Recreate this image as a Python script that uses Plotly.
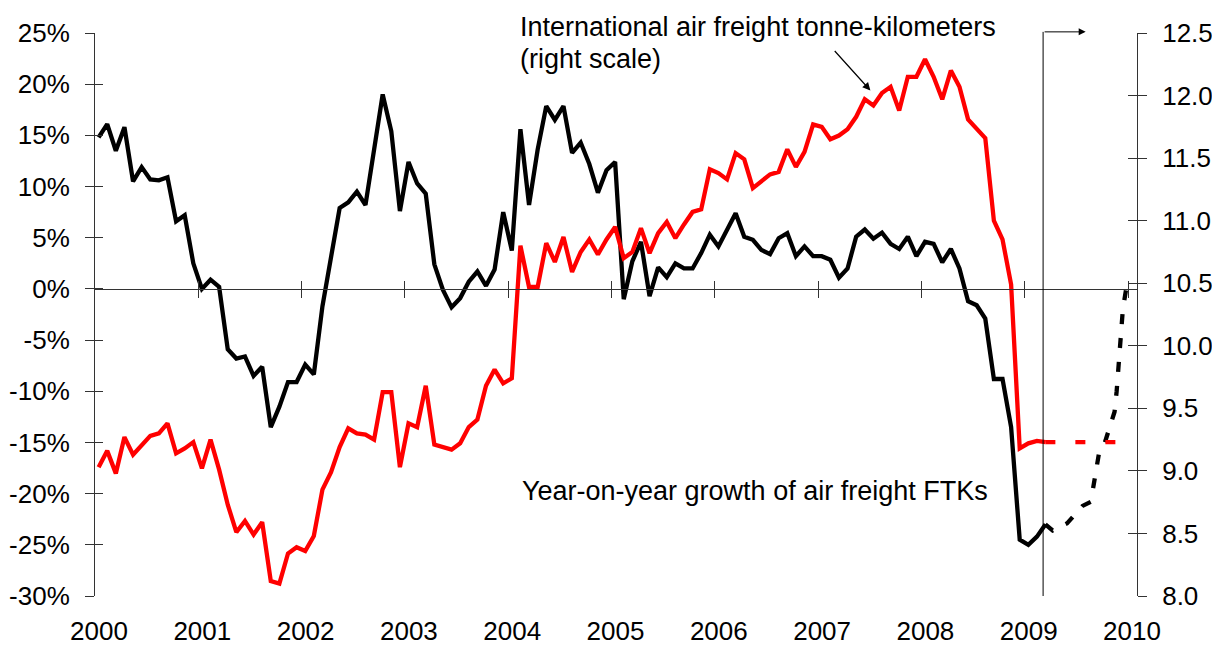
import plotly.graph_objects as go

# ---- data (monthly, Jan 2000 - Mar 2009) ----
start_year = 2000
yoy_growth = [  # year-on-year growth of air freight FTKs, % (left scale)
    14.8, 16.1, 13.5, 15.8, 10.5, 11.9, 10.7, 10.6, 10.9, 6.6, 7.2, 2.5,
    0.0, 0.9, 0.2, -5.9, -6.8, -6.6, -8.5, -7.6, -13.5, -11.5, -9.1, -9.1,
    -7.4, -8.35, -1.7, 3.2, 7.9, 8.45, 9.5, 8.2, 13.9, 19.0, 15.4, 7.6,
    12.4, 10.3, 9.3, 2.4, -0.1, -1.8, -0.9, 0.7, 1.7, 0.3, 1.9, 7.5,
    3.75, 15.6, 8.2, 13.6, 17.85, 16.5, 17.85, 13.3, 14.3, 12.2, 9.4, 11.6,
    12.4, -1.0, 2.7, 4.6, -0.7, 2.1, 1.15, 2.5, 2.0, 2.0, 3.5, 5.3,
    4.15, 5.85, 7.4, 5.1, 4.8, 3.8, 3.4, 4.95, 5.45, 3.2, 4.15, 3.2,
    3.2, 2.85, 1.1, 2.0, 5.1, 5.8, 4.9, 5.5, 4.4, 3.9, 5.1, 3.2,
    4.6, 4.4, 2.6, 3.9, 2.0, -1.2, -1.6, -2.9, -8.8, -8.8, -13.5, -24.5,
    -25.0, -24.2, -23.0,
]
ftk_level = [  # international air freight tonne-km (right scale)
    9.03, 9.16, 8.98, 9.27, 9.13, 9.21, 9.28, 9.30, 9.38, 9.14, 9.18, 9.23,
    9.02, 9.25, 9.01, 8.73, 8.51, 8.60, 8.49, 8.59, 8.12, 8.10, 8.34, 8.39,
    8.36, 8.48, 8.85, 8.99, 9.19, 9.34, 9.30, 9.29, 9.25, 9.63, 9.63, 9.03,
    9.38, 9.35, 9.68, 9.21, 9.19, 9.17, 9.22, 9.35, 9.41, 9.68, 9.81, 9.70,
    9.74, 10.80, 10.47, 10.47, 10.82, 10.67, 10.87, 10.59, 10.75, 10.85, 10.73, 10.85,
    10.95, 10.70, 10.75, 10.94, 10.74, 10.90, 10.99, 10.86, 10.97, 11.07, 11.09, 11.41,
    11.38, 11.33, 11.54, 11.49, 11.26, 11.31, 11.37, 11.39, 11.57, 11.43, 11.55, 11.77,
    11.75, 11.65, 11.68, 11.73, 11.83, 11.97, 11.92, 12.02, 12.07, 11.88, 12.15, 12.15,
    12.29, 12.15, 11.97, 12.20, 12.07, 11.81, 11.74, 11.66, 11.00, 10.85, 10.49, 9.18,
    9.22, 9.24, 9.23,
]
# projections (dashed)
yoy_proj_x = [2009.20, 2009.27, 2009.41, 2009.56, 2009.64, 2009.68, 2009.72, 2009.77,
              2009.83, 2009.87, 2009.89, 2009.91, 2009.93, 2009.95, 2009.99]
yoy_proj_y = [-23.0, -23.6, -22.9, -21.2, -20.8, -18.2, -16.0, -15.2,
              -13.4, -12.0, -10.0, -7.5, -4.5, -2.0, 0.5]
ftk_proj_x = [2009.20, 2009.96]
ftk_proj_y = [9.23, 9.23]

forecast_start = 2009.178
year_ticks = list(range(2000, 2011))
left_ticks = list(range(-30, 30, 5))
right_ticks = [8.0, 8.5, 9.0, 9.5, 10.0, 10.5, 11.0, 11.5, 12.0, 12.5]

# month mid positions as fractional years
t = [start_year + (i + 0.42) / 12 for i in range(len(yoy_growth))]

FONT = "Liberation Sans, Arial, sans-serif"
AX = "#333333"
xr = [2000, 2010.087]
LW = 4.3
ANN = 27

fig = go.Figure()
# empty carrier traces so the extra tick axes get drawn
for xa, ya in [("x2", "y"), ("x3", "y"), ("x", "y3"), ("x", "y4")]:
    fig.add_trace(go.Scatter(x=[None], y=[None], xaxis=xa, yaxis=ya, mode="lines",
                             hoverinfo="skip", showlegend=False))
fig.add_trace(go.Scatter(x=t, y=ftk_level, yaxis="y2", mode="lines",
                         line=dict(color="#FF0000", width=LW), hoverinfo="skip"))
fig.add_trace(go.Scatter(x=ftk_proj_x, y=ftk_proj_y, yaxis="y2", mode="lines",
                         line=dict(color="#FF0000", width=LW, dash="10px,20px"), hoverinfo="skip"))
fig.add_trace(go.Scatter(x=t, y=yoy_growth, yaxis="y", mode="lines",
                         line=dict(color="#000000", width=LW), hoverinfo="skip"))
fig.add_trace(go.Scatter(x=yoy_proj_x, y=yoy_proj_y, yaxis="y", mode="lines",
                         line=dict(color="#000000", width=LW, dash="10px,14px"), hoverinfo="skip"))

zero_pos = 30 / 55

fig.update_layout(
    width=1212, height=646,
    margin=dict(l=95, r=75, t=33, b=50, autoexpand=False),
    paper_bgcolor="white", plot_bgcolor="white",
    showlegend=False,
    font=dict(family=FONT, size=26, color="black"),
    xaxis=dict(range=xr, tickmode="array", tickvals=year_ticks,
               ticktext=[str(y) for y in year_ticks], ticks="", showline=False,
               showgrid=False, zeroline=False, tickfont=dict(size=26),
               ticklabelshift=4, ticklabelstandoff=17),
    xaxis2=dict(overlaying="x", anchor="free", position=zero_pos, range=xr,
                tickmode="array", tickvals=year_ticks[1:], ticks="outside", ticklen=8,
                tickcolor=AX, tickwidth=1, showline=True, linecolor=AX, linewidth=1,
                showticklabels=False, showgrid=False, zeroline=False),
    xaxis3=dict(overlaying="x", anchor="free", position=zero_pos, range=xr,
                tickmode="array", tickvals=year_ticks[1:], ticks="inside", ticklen=8,
                tickcolor=AX, tickwidth=1, showline=False,
                showticklabels=False, showgrid=False, zeroline=False),
    yaxis=dict(range=[-30, 25], tickmode="array", tickvals=left_ticks,
               ticktext=[f"{v}%" for v in left_ticks], ticks="outside", ticklen=9,
               tickcolor=AX, showline=True, linecolor=AX, linewidth=1,
               showgrid=False, zeroline=False, tickfont=dict(size=26),
               ticklabelstandoff=10),
    yaxis3=dict(overlaying="y", side="left", range=[-30, 25], tickmode="array",
                tickvals=left_ticks, ticks="inside", ticklen=8, tickcolor=AX,
                showticklabels=False, showline=False, showgrid=False, zeroline=False),
    yaxis2=dict(overlaying="y", side="right", range=[8, 12.5], tickmode="array",
                tickvals=right_ticks, ticktext=[f"{v:.1f}" for v in right_ticks],
                ticks="outside", ticklen=9, tickcolor=AX, showline=True,
                linecolor=AX, linewidth=1, showgrid=False, zeroline=False,
                tickfont=dict(size=26), ticklabelstandoff=10),
    yaxis4=dict(overlaying="y", side="right", range=[8, 12.5], tickmode="array",
                tickvals=right_ticks, ticks="inside", ticklen=9, tickcolor=AX,
                showticklabels=False, showline=False, showgrid=False, zeroline=False),
)

# forecast divider with arrow at the top
fig.add_shape(type="line", xref="x", yref="paper", x0=forecast_start, x1=forecast_start,
              y0=0, y1=1.002, line=dict(color="black", width=1))
fig.add_annotation(x=2009.59, y=1.002, xref="x", yref="paper", ax=forecast_start, ay=0,
                   axref="x", ayref="pixel", text="", showarrow=True, arrowhead=2,
                   arrowsize=1.4, arrowwidth=1, arrowcolor="black")

# labels
fig.add_annotation(x=2004.098, y=1.0112, xref="x", yref="paper", xanchor="left",
                   yanchor="middle", showarrow=False,
                   text="International air freight tonne-kilometers",
                   font=dict(size=ANN, family=FONT))
fig.add_annotation(x=2004.098, y=0.9543, xref="x", yref="paper", xanchor="left",
                   yanchor="middle", showarrow=False, text="(right scale)",
                   font=dict(size=ANN, family=FONT))
fig.add_annotation(x=2007.506, y=0.8979, xref="x", yref="paper", ax=-37, ay=-41,
                   text="", showarrow=True, arrowhead=2, arrowsize=1.3,
                   arrowwidth=1.2, arrowcolor="black")
fig.add_annotation(x=2004.117, y=0.1865, xref="x", yref="paper", xanchor="left",
                   yanchor="middle", showarrow=False,
                   text="Year-on-year growth of air freight FTKs",
                   font=dict(size=ANN, family=FONT))

fig.write_html("out.html", config={"displayModeBar": False},
               post_script="document.body.style.margin='0';document.body.style.padding='0';")
